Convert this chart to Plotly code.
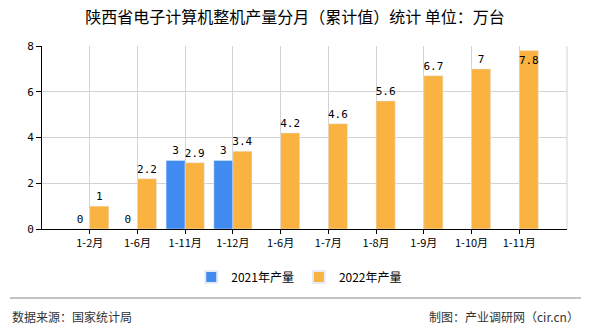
import plotly.graph_objects as go

categories = ["1-2月", "1-6月", "1-11月", "1-12月", "1-6月", "1-7月", "1-8月", "1-9月", "1-10月", "1-11月"]
series_2021 = [0, 0, 3, 3, None, None, None, None, None, None]
series_2022 = [1, 2.2, 2.9, 3.4, 4.2, 4.6, 5.6, 6.7, 7, 7.8]
y_ticks = [0, 2, 4, 6, 8]

x_pos = list(range(len(categories)))
cjk = "Noto Sans CJK SC, sans-serif"
mono = "DejaVu Sans Mono, monospace"

def labels(vals):
    return ["" if v is None else (str(int(v)) if float(v).is_integer() else str(v)) for v in vals]

fig = go.Figure()
fig.add_trace(go.Bar(
    x=x_pos, y=series_2021, name="2021年产量", marker_color="#418BF0",
    text=labels(series_2021), textposition="outside", cliponaxis=False, textangle=0,
    textfont=dict(family=mono, size=11, color="#000"),
))
pos22 = ["outside"] * (len(series_2022) - 1) + ["inside"]
fig.add_trace(go.Bar(
    x=x_pos, y=series_2022, name="2022年产量", marker_color="#FAB341",
    text=labels(series_2022), textposition=pos22, insidetextanchor="end", textangle=0,
    cliponaxis=False, textfont=dict(family=mono, size=11, color="#000"),
))

fig.update_layout(
    width=590, height=330,
    margin=dict(l=42, r=23, t=46, b=101),
    paper_bgcolor="white", plot_bgcolor="white",
    barmode="group", bargap=0.2, bargroupgap=0,
    uniformtext=dict(minsize=11, mode="show"),
    font=dict(family=cjk, size=11, color="#000"),
    title=dict(text="陕西省电子计算机整机产量分月（累计值）统计 单位：万台",
               x=0.5, xanchor="center", y=1 - 17/330, yanchor="middle",
               font=dict(family=cjk, size=16, color="#000")),
    showlegend=True,
    legend=dict(orientation="h", x=0.49, xanchor="center", y=-(277-229)/183, yanchor="middle",
                font=dict(family=cjk, size=12, color="#000"), itemwidth=30, itemsizing="constant",
                tracegroupgap=0),
    xaxis=dict(range=[-1, 10], tickvals=x_pos, ticktext=categories, showgrid=True,
               gridcolor="#d3d3d3", gridwidth=1, showline=True, linecolor="#000", linewidth=1,
               ticks="outside", ticklen=4, tickcolor="#000", zeroline=False,
               tickfont=dict(family=cjk, size=11, color="#000")),
    yaxis=dict(range=[0, 8], tickvals=y_ticks, showgrid=True, gridcolor="#d3d3d3", gridwidth=1,
               showline=True, linecolor="#000", linewidth=1, ticks="outside", ticklen=5,
               tickcolor="#000", zeroline=False, tickfont=dict(family=mono, size=11, color="#000")),
    shapes=[
        dict(type="line", xref="paper", yref="paper", x0=1, x1=1, y0=0, y1=1,
             line=dict(color="#d3d3d3", width=1)),
        dict(type="line", xref="paper", yref="paper", x0=-32/524, x1=538/524,
             y0=-(298-229)/183, y1=-(298-229)/183, line=dict(color="#888", width=1)),
    ],
    annotations=[
        dict(text="数据来源：国家统计局", xref="paper", yref="paper", x=-32/524,
             y=-(316-229)/183, xanchor="left", yanchor="middle", showarrow=False,
             font=dict(family=cjk, size=12, color="#333")),
        dict(text="制图：产业调研网（cir.cn）", xref="paper", yref="paper", x=538/524,
             y=-(316-229)/183, xanchor="right", yanchor="middle", showarrow=False,
             font=dict(family=cjk, size=12, color="#333")),
    ],
)

fig.write_html("out.html")
